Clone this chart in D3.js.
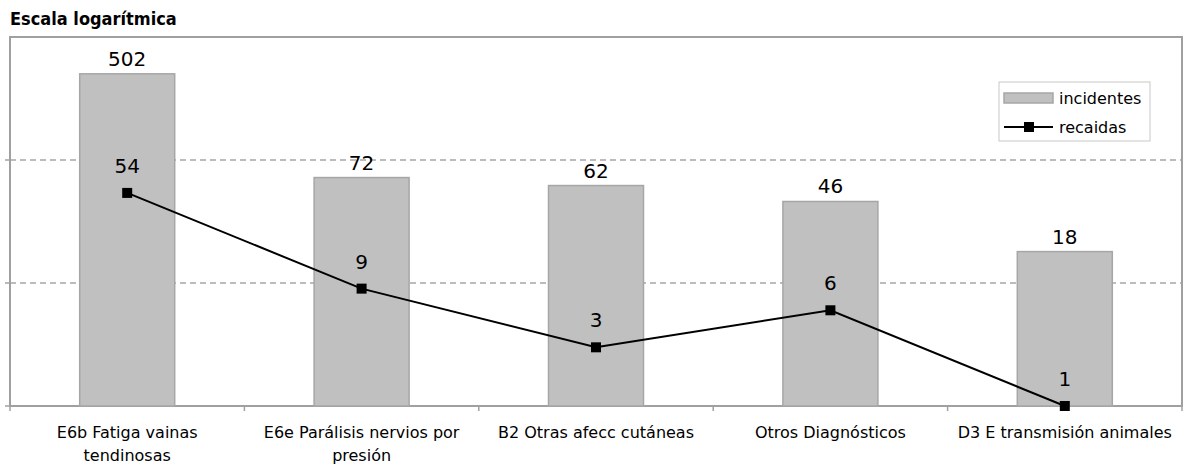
<!DOCTYPE html>
<html>
<head>
<meta charset="utf-8">
<script src="https://cdn.jsdelivr.net/npm/d3@7"></script>
<style>
  body { margin: 0; background: #fff; }
  text { font-family: "DejaVu Sans", Verdana, sans-serif; fill: #000; }
</style>
</head>
<body>
<div id="chart"></div>
<script>
// data
let categories = ["E6b Fatiga vainas tendinosas", "E6e Parálisis nervios por presión",
                  "B2 Otras afecc cutáneas", "Otros Diagnósticos", "D3 E transmisión animales"];
let incidentes = [502, 72, 62, 46, 18];
let recaidas = [54, 9, 3, 6, 1];
let gridValues = [1, 10, 100];

let width = 1184, height = 466;
let plot = { left: 10, right: 1182, top: 37, bottom: 406 };

let svg = d3.select("#chart").append("svg")
  .attr("width", width)
  .attr("height", height);

let xScale = d3.scaleBand().domain(categories).range([plot.left, plot.right]);
let yScale = d3.scaleLog().domain([1, 1000]).range([plot.bottom, plot.top]);
let barW = 95;
let cx = d => xScale(d) + xScale.bandwidth() / 2;

// title
svg.append("text")
  .attr("x", 10).attr("y", 25)
  .style("font-family", "'Liberation Sans Narrow', 'DejaVu Sans Condensed', sans-serif")
  .style("font-weight", "bold")
  .style("font-size", "18px")
  .text("Escala logarítmica");

// dashed gridlines
svg.append("g").selectAll("line")
  .data(gridValues.slice(1))
  .enter().append("line")
  .attr("x1", plot.left).attr("x2", plot.right)
  .attr("y1", d => yScale(d)).attr("y2", d => yScale(d))
  .attr("stroke", "#a6a6a6")
  .attr("stroke-width", 1.5)
  .attr("stroke-dasharray", "6,4");

// plot border
svg.append("rect")
  .attr("x", plot.left).attr("y", plot.top)
  .attr("width", plot.right - plot.left)
  .attr("height", plot.bottom - plot.top)
  .attr("fill", "none")
  .attr("stroke", "#a0a0a0")
  .attr("stroke-width", 2);

// bottom axis with ticks between categories
let xAxis = d3.axisBottom(xScale).tickSize(0).tickFormat("");
let axisG = svg.append("g").attr("transform", `translate(0,${plot.bottom})`).call(xAxis);
axisG.select(".domain").remove();
let bounds = d3.range(categories.length + 1).map(i => plot.left + i * xScale.bandwidth());
axisG.selectAll(".sep").data(bounds).enter().append("line")
  .attr("x1", d => d).attr("x2", d => d)
  .attr("y1", 0).attr("y2", 5)
  .attr("stroke", "#a0a0a0").attr("stroke-width", 1.5);
svg.append("g").selectAll("line").data(gridValues).enter().append("line")
  .attr("x1", plot.left - 5).attr("x2", plot.left)
  .attr("y1", d => yScale(d)).attr("y2", d => yScale(d))
  .attr("stroke", "#a0a0a0").attr("stroke-width", 1.5);

// bars
svg.append("g").selectAll("rect")
  .data(categories)
  .enter().append("rect")
  .attr("x", d => cx(d) - barW / 2)
  .attr("y", (d, i) => yScale(incidentes[i]))
  .attr("width", barW)
  .attr("height", (d, i) => plot.bottom - yScale(incidentes[i]))
  .attr("fill", "#c0c0c0")
  .attr("stroke", "#a6a6a6")
  .attr("stroke-width", 1.5);

svg.append("g").selectAll("text")
  .data(categories)
  .enter().append("text")
  .attr("x", cx)
  .attr("y", (d, i) => yScale(incidentes[i]) - 8)
  .attr("text-anchor", "middle")
  .style("font-size", "20px")
  .text((d, i) => incidentes[i]);

// recaidas line
let line = d3.line()
  .x((d, i) => cx(categories[i]))
  .y(d => yScale(d));
svg.append("path")
  .datum(recaidas)
  .attr("d", line)
  .attr("fill", "none")
  .attr("stroke", "#000")
  .attr("stroke-width", 2);

svg.append("g").selectAll("rect")
  .data(recaidas)
  .enter().append("rect")
  .attr("x", (d, i) => cx(categories[i]) - 5)
  .attr("y", d => yScale(d) - 5)
  .attr("width", 10).attr("height", 10)
  .attr("fill", "#000");

svg.append("g").selectAll("text")
  .data(recaidas)
  .enter().append("text")
  .attr("x", (d, i) => cx(categories[i]))
  .attr("y", d => yScale(d) - 20)
  .attr("text-anchor", "middle")
  .style("font-size", "20px")
  .text(d => d);

// category labels, wrapped to the band width
let labels = svg.append("g").selectAll("text")
  .data(categories)
  .enter().append("text")
  .attr("text-anchor", "middle")
  .attr("x", cx)
  .attr("y", 438)
  .style("font-size", "16px");

labels.each(function(d) {
  let t = d3.select(this);
  let words = d.split(" ");
  let lines = [], cur = [];
  words.forEach(w => {
    cur.push(w);
    t.text(cur.join(" "));
    if (this.getComputedTextLength() > 225 && cur.length > 1) {
      cur.pop();
      lines.push(cur.join(" "));
      cur = [w];
    }
  });
  lines.push(cur.join(" "));
  t.text(null);
  lines.forEach((l, i) => {
    t.append("tspan").attr("x", cx(d)).attr("dy", i ? 23 : 0).text(l);
  });
});

// legend
let lg = svg.append("g").attr("transform", "translate(999,82)");
lg.append("rect")
  .attr("width", 151).attr("height", 59)
  .attr("fill", "#fff")
  .attr("stroke", "#c8c8c8").attr("stroke-width", 1);
lg.append("rect")
  .attr("x", 5).attr("y", 11).attr("width", 49).attr("height", 10)
  .attr("fill", "#c0c0c0").attr("stroke", "#a6a6a6").attr("stroke-width", 1.5);
lg.append("text").attr("x", 60).attr("y", 22).style("font-size", "16px").text("incidentes");
lg.append("line")
  .attr("x1", 5).attr("x2", 54).attr("y1", 45).attr("y2", 45)
  .attr("stroke", "#000").attr("stroke-width", 2);
lg.append("rect").attr("x", 25).attr("y", 40).attr("width", 10).attr("height", 10).attr("fill", "#000");
lg.append("text").attr("x", 60).attr("y", 51).style("font-size", "16px").text("recaidas");
</script>
</body>
</html>
